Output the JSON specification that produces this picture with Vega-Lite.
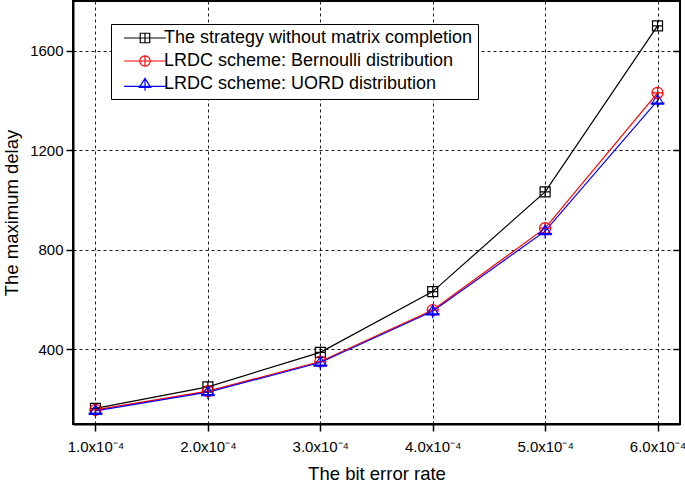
{
  "$schema": "https://vega.github.io/schema/vega-lite/v6.json",
  "autosize": "none",
  "width": 607,
  "height": 423,
  "padding": {"left": 73, "top": 1, "right": 5, "bottom": 58},
  "background": "white",
  "config": {
    "font": "Liberation Sans",
    "view": {"stroke": "black", "strokeWidth": 2},
    "axis": {
      "grid": true,
      "gridColor": "black",
      "gridDash": [3, 3],
      "gridWidth": 1,
      "gridOpacity": 0.9,
      "domainColor": "black",
      "domainWidth": 2,
      "tickColor": "black",
      "tickWidth": 1.5,
      "tickSize": 7,
      "labelColor": "black",
      "labelFontSize": 15,
      "titleColor": "black",
      "titleFontSize": 18.5,
      "titleFontWeight": "normal"
    }
  },
  "data": {
    "values": [
      {"ber": 1, "delay": 163, "series": "The strategy without matrix completion"},
      {"ber": 2, "delay": 249, "series": "The strategy without matrix completion"},
      {"ber": 3, "delay": 388, "series": "The strategy without matrix completion"},
      {"ber": 4, "delay": 632, "series": "The strategy without matrix completion"},
      {"ber": 5, "delay": 1033, "series": "The strategy without matrix completion"},
      {"ber": 6, "delay": 1700, "series": "The strategy without matrix completion"},
      {"ber": 1, "delay": 157, "series": "LRDC scheme: Bernoulli distribution"},
      {"ber": 2, "delay": 232, "series": "LRDC scheme: Bernoulli distribution"},
      {"ber": 3, "delay": 351, "series": "LRDC scheme: Bernoulli distribution"},
      {"ber": 4, "delay": 558, "series": "LRDC scheme: Bernoulli distribution"},
      {"ber": 5, "delay": 887, "series": "LRDC scheme: Bernoulli distribution"},
      {"ber": 6, "delay": 1431, "series": "LRDC scheme: Bernoulli distribution"},
      {"ber": 1, "delay": 153, "series": "LRDC scheme: UORD distribution"},
      {"ber": 2, "delay": 228, "series": "LRDC scheme: UORD distribution"},
      {"ber": 3, "delay": 347, "series": "LRDC scheme: UORD distribution"},
      {"ber": 4, "delay": 553, "series": "LRDC scheme: UORD distribution"},
      {"ber": 5, "delay": 875, "series": "LRDC scheme: UORD distribution"},
      {"ber": 6, "delay": 1400, "series": "LRDC scheme: UORD distribution"}
    ]
  },
  "layer": [
    {
      "mark": {"type": "line", "strokeWidth": 1.2},
      "encoding": {
        "x": {
          "field": "ber", "type": "quantitative",
          "scale": {"domain": [0.8, 6.2], "nice": false, "zero": false},
          "axis": {
            "title": "The bit error rate",
            "values": [1, 2, 3, 4, 5, 6],
            "labelExpr": "format(datum.value, '.1f') + 'x10⁻⁴'",
            "labelPadding": 8,
            "titlePadding": 10
          }
        },
        "y": {
          "field": "delay", "type": "quantitative",
          "scale": {"domain": [100, 1800], "nice": false, "zero": false},
          "axis": {
            "title": "The maximum delay",
            "values": [400, 800, 1200, 1600],
            "format": "d",
            "labelPadding": 3,
            "titlePadding": 8
          }
        },
        "color": {
          "field": "series", "type": "nominal",
          "sort": null,
          "scale": {
            "domain": ["The strategy without matrix completion", "LRDC scheme: Bernoulli distribution", "LRDC scheme: UORD distribution"],
            "range": ["black", "#ff0000", "#0000ff"]
          },
          "legend": {
            "title": null,
            "orient": "none",
            "legendX": 38,
            "legendY": 23,
            "padding": 5,
            "strokeColor": "black",
            "fillColor": "white",
            "labelFontSize": 18,
            "labelColor": "black",
            "labelLimit": 0,
            "symbolSize": 90,
            "symbolStrokeWidth": 1.2,
            "symbolFillColor": "white",
            "symbolOffset": 20,
            "labelOffset": 10,
            "rowPadding": 5,
            "encode": {
              "symbols": {
                "update": {
                  "shape": {"signal": "datum.value == 'The strategy without matrix completion' ? 'M-4.4,0H-1M1,0H4.4M-1,-1H1V1H-1ZM0,-1V1M-1,0H1' : datum.value == 'LRDC scheme: Bernoulli distribution' ? 'M-4.4,0H-1.1M1.1,0H4.4M-1.1,0A1.1,1.1,0,1,0,1.1,0A1.1,1.1,0,1,0,-1.1,0ZM0,-1.1V1.1M-1.1,0H1.1' : 'M-4.4,0.5H4.4M0,-1.2L1.2,0.7H-1.2ZM0,-1.2V1.4'"},
                  "strokeWidth": {"value": 1.2}
                }
              }
            }
          }
        }
      }
    },
    {
      "transform": [{"filter": "datum.series == 'The strategy without matrix completion'"}],
      "mark": {"type": "point", "filled": false, "strokeWidth": 1.2, "opacity": 1, "size": 100, "shape": "M-1,-1H1V1H-1ZM0,-1V1M-1,0H1"},
      "encoding": {
        "x": {"field": "ber", "type": "quantitative"},
        "y": {"field": "delay", "type": "quantitative", "axis": null},
        "color": {"field": "series", "type": "nominal", "legend": null}
      }
    },
    {
      "transform": [{"filter": "datum.series == 'LRDC scheme: Bernoulli distribution'"}],
      "mark": {"type": "point", "filled": false, "strokeWidth": 1.2, "opacity": 1, "size": 100, "shape": "M-1.1,0A1.1,1.1,0,1,0,1.1,0A1.1,1.1,0,1,0,-1.1,0ZM0,-1.1V1.1M-1.1,0H1.1"},
      "encoding": {
        "x": {"field": "ber", "type": "quantitative"},
        "y": {"field": "delay", "type": "quantitative", "axis": null},
        "color": {"field": "series", "type": "nominal", "legend": null}
      }
    },
    {
      "transform": [{"filter": "datum.series == 'LRDC scheme: UORD distribution'"}],
      "mark": {"type": "point", "filled": false, "strokeWidth": 1.2, "opacity": 1, "size": 100, "shape": "M0,-1.2L1.2,0.7H-1.2ZM0,-1.2V1.4M-1.4,0.5H1.4"},
      "encoding": {
        "x": {"field": "ber", "type": "quantitative"},
        "y": {
          "field": "delay", "type": "quantitative",
          "axis": {"orient": "right", "labels": false, "title": null, "grid": false, "domain": false, "tickSize": 7, "offset": -7, "values": [400, 800, 1200, 1600]}
        },
        "color": {"field": "series", "type": "nominal", "legend": null}
      }
    }
  ],
  "resolve": {"axis": {"y": "independent"}}
}
